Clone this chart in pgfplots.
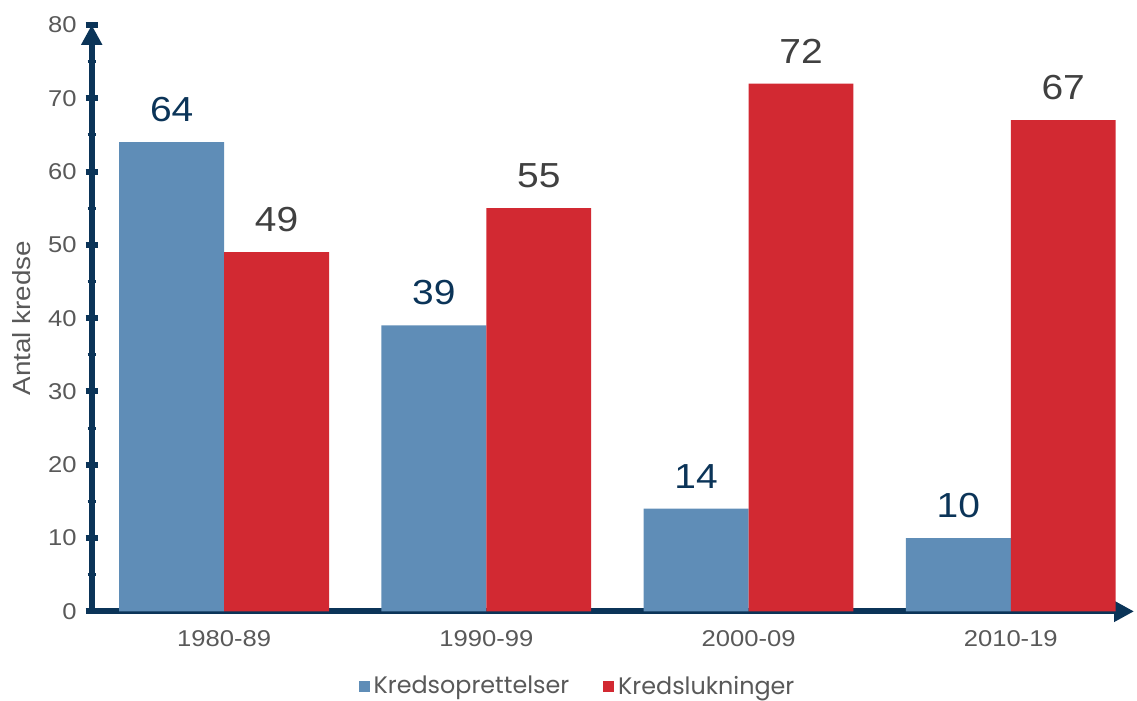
\documentclass[border=0pt]{standalone}
\usepackage{fontspec}
\setmainfont{Liberation Sans}[FakeStretch=1.12]
\newfontfamily\legfont{Poppins}
\usepackage{pgfplots}
\pgfplotsset{compat=1.18}
\usetikzlibrary{arrows.meta}

\definecolor{navy}{HTML}{0B3458}
\definecolor{barblue}{HTML}{5F8DB7}
\definecolor{barred}{HTML}{D22932}
\definecolor{txtgray}{HTML}{595959}
\definecolor{lblred}{HTML}{404040}

\begin{document}
\begin{tikzpicture}
\begin{axis}[
    width=522.5bp, height=294bp, scale only axis,
    ybar=0pt, bar width=0.4,
    xmin=-0.505, xmax=3.47,
    ymin=0, ymax=80,
    ytick={0,10,...,80},
    minor y tick num=1,
    xtick={0,1,2,3},
    xticklabels={1980-89,1990-99,2000-09,2010-19},
    axis lines=left,
    axis line style={navy, line width=3bp, -{Triangle[length=10bp,width=10bp]}},
    x axis line style={shorten <=-1.5bp},
    major x tick style={draw=none},
    minor x tick style={draw=none},
    major y tick style={navy, line width=3bp},
    minor y tick style={navy, line width=1.5bp},
    major tick length=6bp,
    minor tick length=4bp,
    tick align=center,
    ticklabel style={font=\fontsize{11.5}{13}\selectfont, text=txtgray},
    /pgf/number format/assume math mode=true,
    yticklabel style={xshift=-1bp},
    xticklabel style={yshift=-3bp},
    ylabel={Antal kredse},
    ylabel style={font=\fontsize{12.5}{14}\selectfont, text=txtgray, yshift=2bp},
    nodes near coords,
    every node near coord/.append style={font=\fontsize{17.5}{20}\selectfont, inner sep=0pt, yshift=10bp},
    legend columns=2,
    legend style={at={(rel axis cs:0.467,-0.128)}, anchor=center, draw=none,
        font=\legfont\fontsize{12}{14}\selectfont, text=txtgray,
        /tikz/every even column/.append style={column sep=15bp},
        inner sep=0pt},
    legend image code/.code={\fill[#1] (0bp,-2.75bp) rectangle (5.5bp,2.75bp);},
    clip=false,
]
\addplot[fill=barblue, draw=none, every node near coord/.append style={text=navy}]
    coordinates {(0,64) (1,39) (2,14) (3,10)};
\addplot[fill=barred, draw=none, every node near coord/.append style={text=lblred}]
    coordinates {(0,49) (1,55) (2,72) (3,67)};
\legend{Kredsoprettelser,Kredslukninger}
\path (rel axis cs:-0.088,-0.146) rectangle (rel axis cs:1,1.0425);
\end{axis}
\end{tikzpicture}
\end{document}
